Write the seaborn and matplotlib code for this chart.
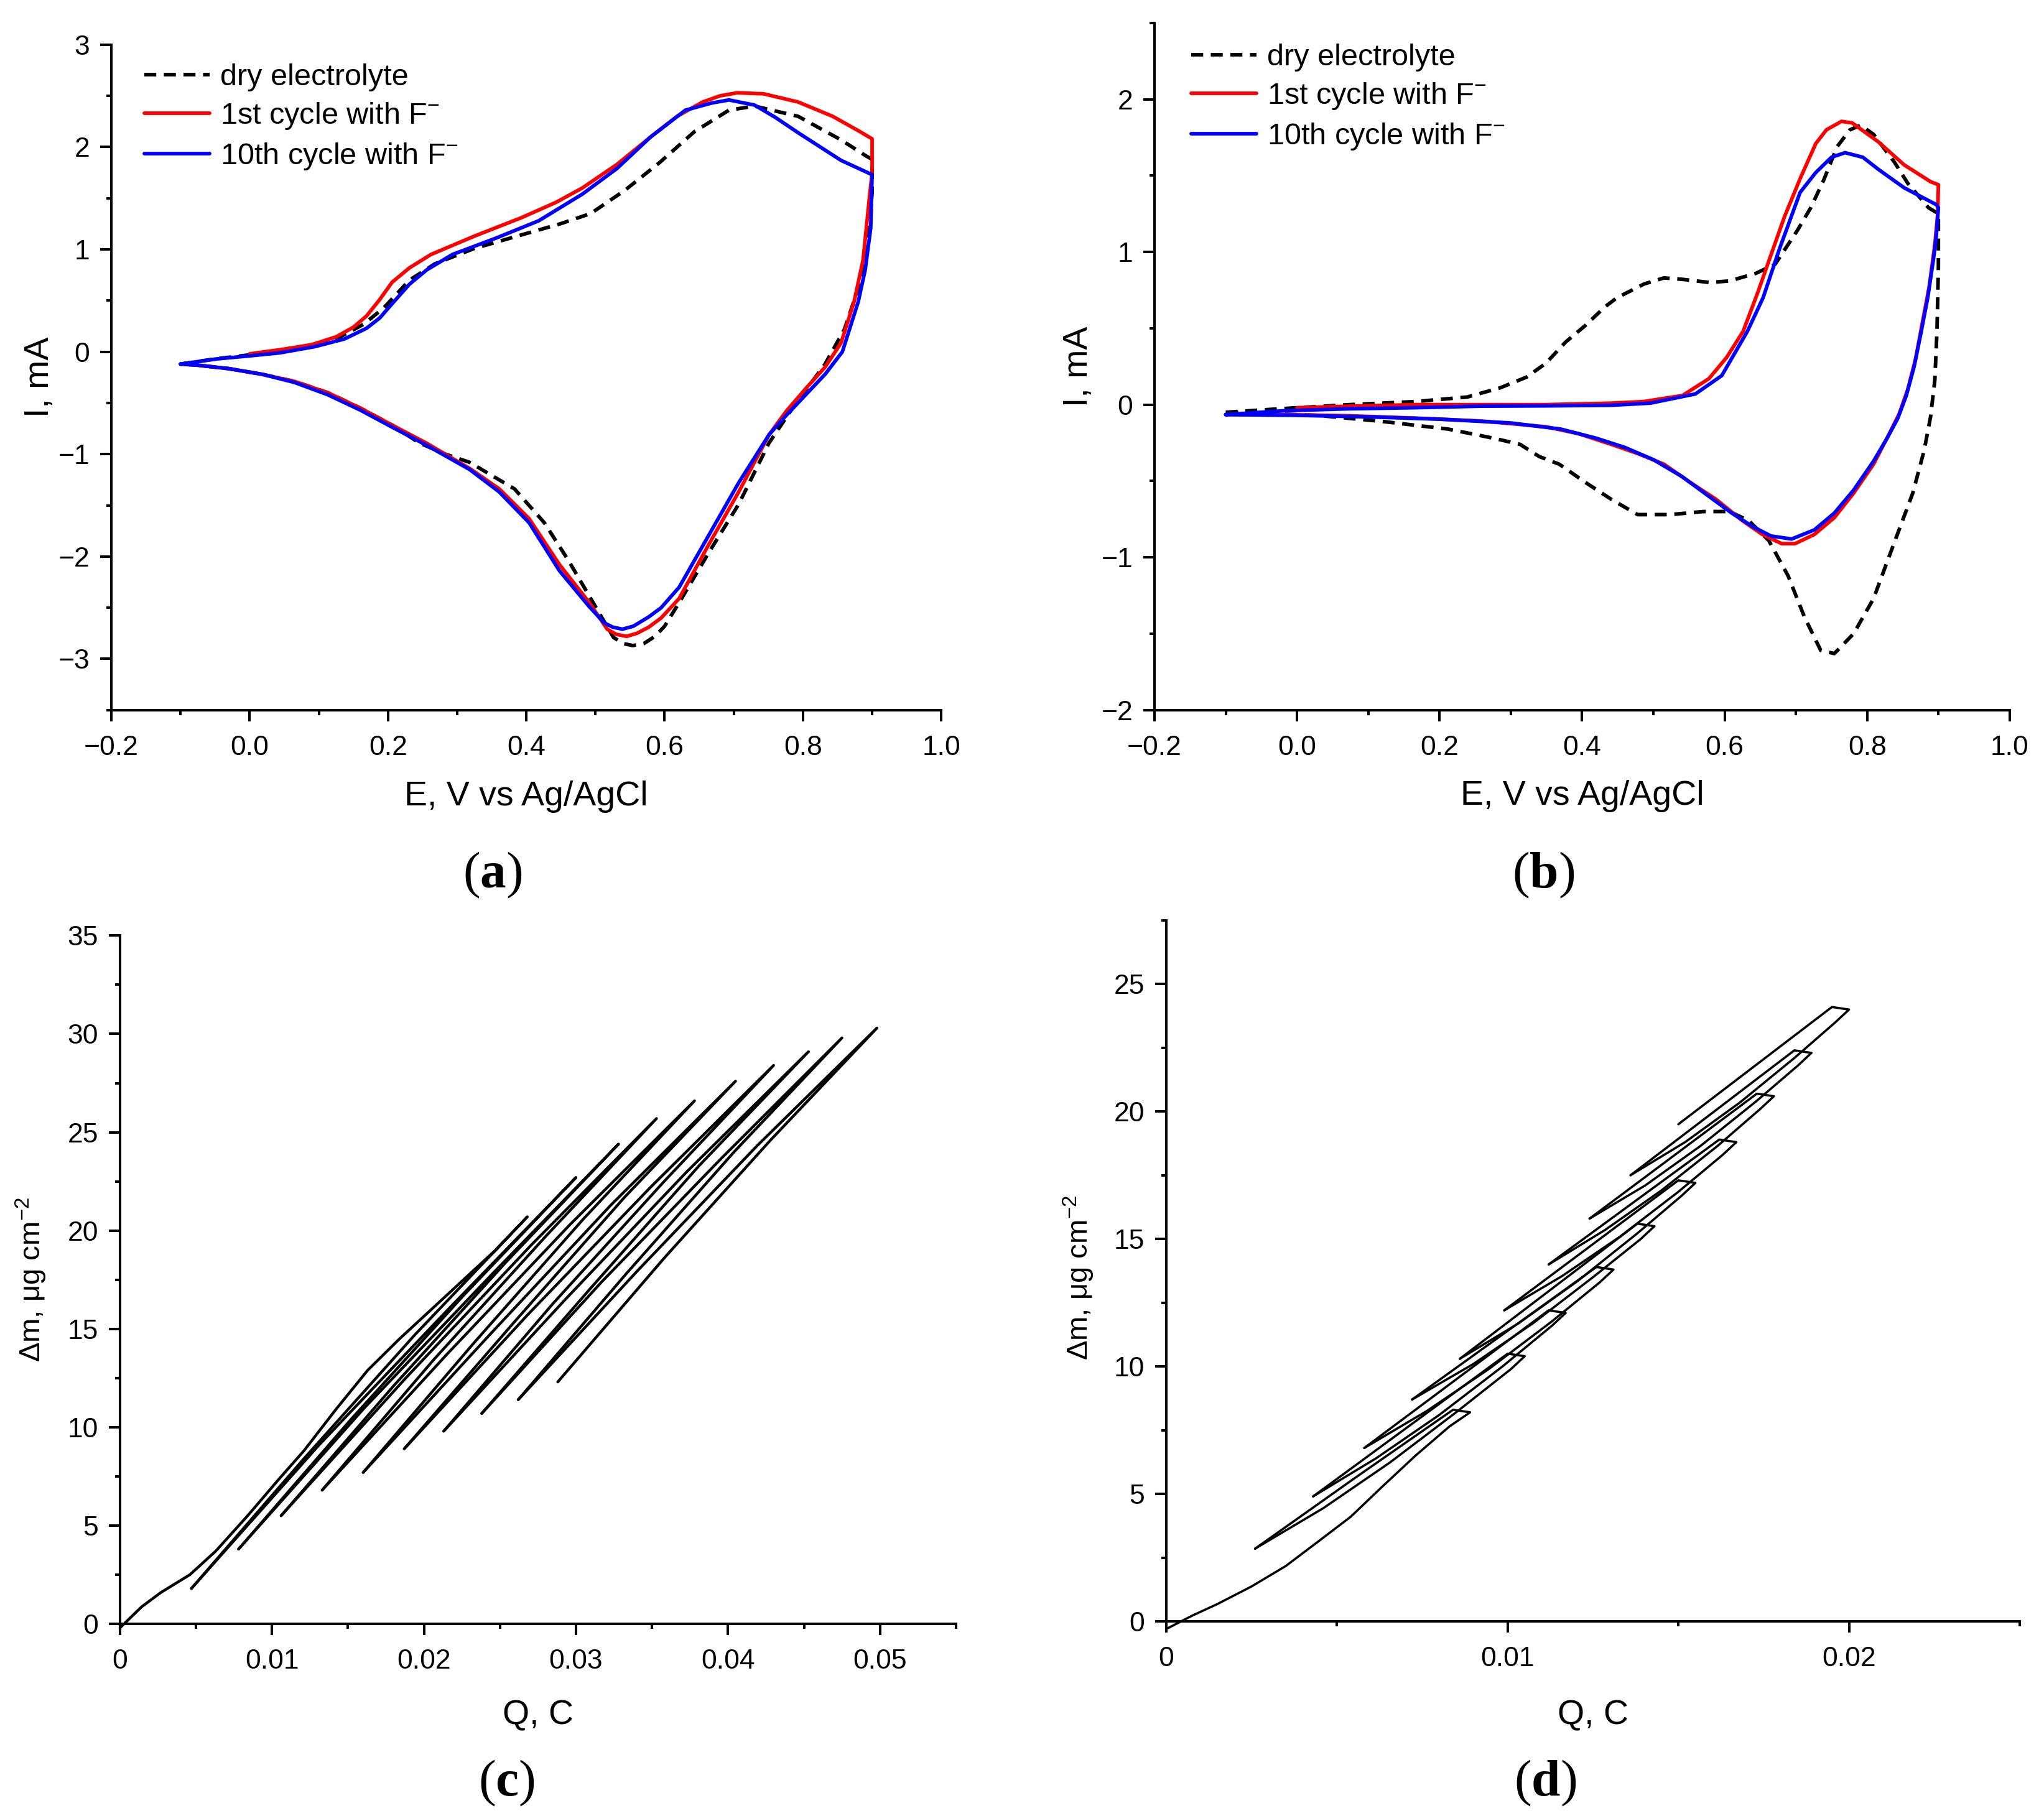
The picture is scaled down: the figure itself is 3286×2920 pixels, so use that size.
import matplotlib
matplotlib.use('Agg')
import matplotlib.pyplot as plt
from matplotlib.ticker import MultipleLocator, FuncFormatter
import seaborn as sns
import pandas as pd

# ---------------- (a) CV, E / V vs I / mA ----------------
A_DRY_E = [-0.1, -0.05, 0.0, 0.05, 0.094, 0.131, 0.165, 0.194, 0.231, 0.268, 0.325, 0.387, 0.449,
           0.493, 0.543, 0.593, 0.643, 0.693, 0.730, 0.793, 0.855, 0.892, 0.900,
           0.900, 0.894, 0.880, 0.860, 0.832, 0.785, 0.751, 0.707, 0.664, 0.621, 0.600, 0.586,
           0.570, 0.554, 0.540, 0.526, 0.500, 0.461, 0.426, 0.383, 0.318, 0.283, 0.245, 0.207,
           0.160, 0.113, 0.065, 0.018, -0.03, -0.077, -0.1]
A_DRY_I = [-0.12, -0.07, -0.03, 0.02, 0.07, 0.146, 0.27, 0.43, 0.70, 0.86, 1.01, 1.13, 1.25,
           1.35, 1.58, 1.85, 2.15, 2.36, 2.40, 2.30, 2.07, 1.91, 1.88,
           1.55, 1.05, 0.62, 0.22, -0.12, -0.55, -0.89, -1.49, -1.96, -2.45, -2.68, -2.78,
           -2.85, -2.87, -2.85, -2.79, -2.49, -2.04, -1.67, -1.34, -1.08, -1.00, -0.89, -0.72,
           -0.55, -0.40, -0.29, -0.22, -0.165, -0.13, -0.12]

A_RED_E = [0.0, 0.044, 0.09, 0.125, 0.150, 0.169, 0.188, 0.206, 0.231, 0.262, 0.325, 0.393,
           0.443, 0.481, 0.531, 0.580, 0.618, 0.655, 0.680, 0.705, 0.743, 0.793, 0.843, 0.880,
           0.900, 0.900, 0.896, 0.887, 0.874, 0.855, 0.832, 0.804, 0.776, 0.751, 0.707, 0.664,
           0.621, 0.595, 0.577, 0.560, 0.545, 0.530, 0.517, 0.491, 0.448, 0.404, 0.361, 0.318,
           0.255, 0.207, 0.160, 0.113, 0.065, 0.018, -0.03, -0.077, -0.1]
A_RED_I = [-0.02, 0.02, 0.07, 0.146, 0.24, 0.35, 0.51, 0.68, 0.82, 0.95, 1.13, 1.31,
           1.46, 1.60, 1.83, 2.10, 2.30, 2.44, 2.50, 2.53, 2.52, 2.44, 2.30, 2.16,
           2.08, 1.75, 1.50, 0.90, 0.49, 0.085, -0.15, -0.36, -0.58, -0.81, -1.37, -1.88,
           -2.41, -2.60, -2.69, -2.75, -2.78, -2.76, -2.71, -2.45, -2.08, -1.63, -1.34, -1.14,
           -0.89, -0.72, -0.55, -0.40, -0.29, -0.22, -0.165, -0.13, -0.12]

A_BLUE_E = [-0.1, -0.048, 0.0, 0.044, 0.094, 0.137, 0.169, 0.188, 0.206, 0.231, 0.256, 0.293,
            0.356, 0.418, 0.481, 0.531, 0.580, 0.630, 0.668, 0.693, 0.730, 0.760, 0.793, 0.855,
            0.900, 0.898, 0.890, 0.880, 0.857, 0.832, 0.804, 0.776, 0.751, 0.707, 0.664, 0.621,
            0.595, 0.577, 0.555, 0.539, 0.525, 0.513, 0.491, 0.448, 0.404, 0.361, 0.318, 0.255,
            0.207, 0.160, 0.113, 0.065, 0.018, -0.03, -0.077, -0.1]
A_BLUE_I = [-0.12, -0.07, -0.04, -0.01, 0.05, 0.125, 0.23, 0.33, 0.47, 0.66, 0.80, 0.95,
            1.11, 1.28, 1.54, 1.79, 2.10, 2.36, 2.43, 2.46, 2.41, 2.29, 2.14, 1.87,
            1.73, 1.21, 0.80, 0.49, 0.0, -0.22, -0.42, -0.62, -0.81, -1.28, -1.79, -2.30,
            -2.50, -2.59, -2.68, -2.71, -2.69, -2.65, -2.49, -2.14, -1.67, -1.37, -1.15, -0.91,
            -0.74, -0.57, -0.42, -0.30, -0.22, -0.165, -0.13, -0.12]

# ---------------- (b) CV ----------------
B_DRY_E = [-0.1, 0.0, 0.074, 0.166, 0.239, 0.285, 0.322, 0.349, 0.377, 0.405, 0.432, 0.449,
           0.487, 0.515, 0.542, 0.579, 0.607, 0.644, 0.671, 0.702, 0.721, 0.739, 0.758, 0.776,
           0.791, 0.809, 0.838, 0.857, 0.886, 0.900,
           0.900, 0.898, 0.895, 0.889, 0.880, 0.864, 0.836, 0.809, 0.781, 0.754,
           0.735, 0.712, 0.689, 0.662, 0.634, 0.607, 0.570, 0.524, 0.478, 0.441, 0.405, 0.368,
           0.340, 0.313, 0.276, 0.212, 0.120, 0.028, -0.1]
B_DRY_I = [-0.05, -0.02, 0.0, 0.02, 0.05, 0.11, 0.18, 0.27, 0.41, 0.52, 0.64, 0.70,
           0.79, 0.83, 0.82, 0.80, 0.81, 0.86, 0.92, 1.14, 1.29, 1.47, 1.69, 1.80,
           1.83, 1.77, 1.59, 1.45, 1.29, 1.25,
           0.90, 0.48, 0.16, -0.08, -0.30, -0.58, -0.93, -1.27, -1.50, -1.63,
           -1.61, -1.39, -1.12, -0.89, -0.76, -0.70, -0.70, -0.72, -0.72, -0.62, -0.51, -0.39,
           -0.34, -0.26, -0.22, -0.16, -0.11, -0.07, -0.05]

B_RED_E = [0.0, 0.074, 0.166, 0.258, 0.349, 0.441, 0.486, 0.541, 0.578, 0.603, 0.626, 0.647,
           0.662, 0.684, 0.706, 0.728, 0.743, 0.764, 0.779, 0.816, 0.852, 0.889, 0.900,
           0.899, 0.895, 0.887, 0.878, 0.868, 0.857, 0.845, 0.830, 0.809, 0.781, 0.754, 0.726,
           0.699, 0.680, 0.653, 0.625, 0.588, 0.552, 0.515, 0.478, 0.441, 0.395, 0.349, 0.258,
           0.166, 0.074, -0.018, -0.1]
B_RED_I = [-0.02, -0.01, 0.0, 0.0, 0.0, 0.01, 0.02, 0.06, 0.17, 0.31, 0.48, 0.74,
           0.94, 1.23, 1.48, 1.71, 1.80, 1.855, 1.845, 1.72, 1.57, 1.46, 1.44,
           1.25, 1.05, 0.77, 0.55, 0.30, 0.10, -0.06, -0.20, -0.39, -0.58, -0.74, -0.85,
           -0.91, -0.91, -0.85, -0.76, -0.62, -0.51, -0.39, -0.32, -0.26, -0.19, -0.145, -0.107,
           -0.088, -0.073, -0.065, -0.065]

B_BLUE_E = [-0.1, -0.018, 0.074, 0.166, 0.258, 0.349, 0.441, 0.496, 0.559, 0.596, 0.632, 0.654,
            0.677, 0.706, 0.728, 0.750, 0.769, 0.794, 0.816, 0.852, 0.897, 0.900,
            0.897, 0.893, 0.885, 0.876, 0.866, 0.855, 0.843, 0.828, 0.809, 0.781, 0.754, 0.726,
            0.694, 0.665, 0.640, 0.610, 0.575, 0.540, 0.500, 0.460, 0.420, 0.370, 0.300, 0.200,
            0.100, 0.0, -0.1]
B_BLUE_I = [-0.065, -0.04, -0.027, -0.02, -0.01, -0.008, -0.004, 0.01, 0.07, 0.19, 0.48, 0.70,
            1.02, 1.39, 1.52, 1.62, 1.65, 1.62, 1.54, 1.42, 1.31, 1.29,
            1.10, 0.95, 0.70, 0.48, 0.25, 0.06, -0.09, -0.22, -0.37, -0.56, -0.71, -0.82,
            -0.88, -0.86, -0.80, -0.71, -0.59, -0.47, -0.36, -0.28, -0.22, -0.16, -0.12, -0.095,
            -0.08, -0.07, -0.065]

CV_LABELS = ['dry electrolyte', '1st cycle with F$^{-}$', '10th cycle with F$^{-}$']

# ---------------- (c) EQCM, Q / C vs dm / ug cm-2, one list per cycle ----------------
C_Q = [
    [0.0, 0.00143, 0.0027, 0.0046, 0.0063, 0.0084, 0.0105, 0.0121, 0.0142, 0.0163, 0.0184, 0.0205,
     0.0226, 0.0247, 0.0268, 0.0194, 0.0121, 0.0047],
    [0.0047, 0.0131, 0.0216, 0.0300, 0.0226, 0.0152, 0.0078],
    [0.0078, 0.0161, 0.0245, 0.0328, 0.0254, 0.0180, 0.0106],
    [0.0106, 0.0188, 0.0271, 0.0353, 0.0280, 0.0206, 0.0133],
    [0.0133, 0.0215, 0.0296, 0.0378, 0.0305, 0.0233, 0.0160],
    [0.0160, 0.0242, 0.0323, 0.0405, 0.0332, 0.0260, 0.0187],
    [0.0187, 0.0268, 0.0349, 0.0430, 0.0358, 0.0285, 0.0213],
    [0.0213, 0.0293, 0.0373, 0.0453, 0.0381, 0.0310, 0.0238],
    [0.0238, 0.0317, 0.0396, 0.0475, 0.0404, 0.0333, 0.0262],
    [0.0262, 0.0341, 0.0419, 0.0498, 0.0428, 0.0358, 0.0288],
]
C_M = [
    [-0.2, 0.87, 1.6, 2.5, 3.7, 5.5, 7.4, 8.8, 10.9, 12.9, 14.5, 16.0,
     17.5, 19.0, 20.7, 14.7, 8.4, 1.8],
    [1.8, 9.1, 16.0, 22.7, 16.7, 10.4, 3.8],
    [3.8, 11.0, 17.8, 24.4, 18.4, 12.1, 5.5],
    [5.5, 12.5, 19.3, 25.7, 19.7, 13.4, 6.8],
    [6.8, 13.7, 20.3, 26.6, 20.6, 14.3, 7.7],
    [7.7, 14.6, 21.3, 27.6, 21.7, 15.4, 8.9],
    [8.9, 15.7, 22.2, 28.4, 22.5, 16.3, 9.8],
    [9.8, 16.5, 23.0, 29.1, 23.3, 17.1, 10.7],
    [10.7, 17.4, 23.7, 29.8, 24.0, 17.8, 11.4],
    [11.4, 18.0, 24.3, 30.3, 24.6, 18.6, 12.3],
]

# ---------------- (d) EQCM ----------------
D_Q = [
    [0.0, 0.00077, 0.0015, 0.0025, 0.0035, 0.0044, 0.0054, 0.0063, 0.0073, 0.0083, 0.0089,
     0.0084, 0.0055, 0.0026],
    [0.0026, 0.0046, 0.00655, 0.0085, 0.0101, 0.0105, 0.0100, 0.00715, 0.0043],
    [0.0043, 0.00615, 0.0080, 0.00985, 0.0113, 0.0117, 0.0112, 0.0085, 0.0058],
    [0.0058, 0.00763, 0.00945, 0.01128, 0.0127, 0.0131, 0.0126, 0.0099, 0.0072],
    [0.0072, 0.0090, 0.01075, 0.0125, 0.0139, 0.0143, 0.0138, 0.0112, 0.0086],
    [0.0086, 0.01033, 0.01205, 0.01378, 0.0151, 0.0155, 0.0150, 0.01245, 0.0099],
    [0.0099, 0.0116, 0.0133, 0.0150, 0.0163, 0.0167, 0.0162, 0.0137, 0.0112],
    [0.0112, 0.01285, 0.0145, 0.01615, 0.0174, 0.0178, 0.0173, 0.01485, 0.0124],
    [0.0124, 0.01403, 0.01565, 0.01728, 0.0185, 0.0189, 0.0184, 0.0160, 0.0136],
    [0.0136, 0.0152, 0.0168, 0.0184, 0.0196, 0.0200, 0.0195, 0.01725, 0.0150],
]
D_M = [
    [-0.3, 0.23, 0.68, 1.37, 2.17, 3.08, 4.1, 5.25, 6.5, 7.65, 8.2,
     8.3, 5.6, 2.85],
    [2.85, 4.44, 6.23, 8.21, 9.9, 10.4, 10.5, 7.7, 4.9],
    [4.9, 6.4, 8.1, 10.0, 11.6, 12.1, 12.2, 9.5, 6.8],
    [6.8, 8.25, 9.9, 11.75, 13.3, 13.8, 13.9, 11.3, 8.7],
    [8.7, 10.1, 11.7, 13.5, 15.0, 15.5, 15.6, 12.95, 10.3],
    [10.3, 11.7, 13.35, 15.2, 16.7, 17.2, 17.3, 14.75, 12.2],
    [12.2, 13.55, 15.1, 16.85, 18.3, 18.8, 18.9, 16.45, 14.0],
    [14.0, 15.35, 16.9, 18.65, 20.1, 20.6, 20.7, 18.25, 15.8],
    [15.8, 17.1, 18.65, 20.4, 21.8, 22.3, 22.4, 19.95, 17.5],
    [17.5, 18.8, 20.35, 22.1, 23.5, 24.0, 24.1, 21.8, 19.5],
]

# ---------------- style ----------------
sns.set_theme(style='ticks')
plt.rcParams['font.family'] = ['Liberation Sans', 'DejaVu Sans']
plt.rcParams['mathtext.default'] = 'regular'
plt.rcParams['mathtext.fontset'] = 'custom'
plt.rcParams['mathtext.bf'] = 'Liberation Serif:bold'
plt.rcParams['axes.unicode_minus'] = True
plt.rcParams['axes.linewidth'] = 1.45
plt.rcParams['axes.edgecolor'] = 'black'
plt.rcParams['text.color'] = 'black'
plt.rcParams['axes.labelcolor'] = 'black'

fig = plt.figure(figsize=(16.43, 14.6), dpi=200)
fig.patch.set_facecolor('white')

ax_a = fig.add_axes([0.0545, 0.609, 0.406, 0.3664])
ax_b = fig.add_axes([0.5648, 0.609, 0.4184, 0.3784])
ax_c = fig.add_axes([0.0587, 0.1058, 0.409, 0.379])
ax_d = fig.add_axes([0.5706, 0.1072, 0.4175, 0.386])


def style_axes(ax, xmaj, xmin, ymaj, ymin):
    ax.set_facecolor('white')
    ax.spines['top'].set_visible(False)
    ax.spines['right'].set_visible(False)
    ax.xaxis.set_major_locator(MultipleLocator(xmaj))
    ax.xaxis.set_minor_locator(MultipleLocator(xmin))
    ax.yaxis.set_major_locator(MultipleLocator(ymaj))
    ax.yaxis.set_minor_locator(MultipleLocator(ymin))
    ax.tick_params(which='major', direction='out', length=6.5, width=1.45,
                   labelsize=16, colors='black')
    ax.tick_params(which='minor', direction='out', length=3, width=1.45, colors='black')
    ax.tick_params(axis='x', which='major', pad=8)
    ax.tick_params(axis='y', which='major', pad=6)
    ax.grid(False)


def draw_cv(ax, dry, red, blue):
    dash = (0, (3.3, 2.1))
    sns.lineplot(x=dry[0], y=dry[1], ax=ax, sort=False, estimator=None, color='black',
                 lw=2.1, ls=dash, label=CV_LABELS[0])
    sns.lineplot(x=red[0], y=red[1], ax=ax, sort=False, estimator=None, color='#ff0000',
                 lw=2.1, label=CV_LABELS[1])
    sns.lineplot(x=blue[0], y=blue[1], ax=ax, sort=False, estimator=None, color='#0000ff',
                 lw=2.1, label=CV_LABELS[2])
    ax.set_xlim(-0.2, 1.0)
    ax.set_xlabel('E, V vs Ag/AgCl', fontsize=20)
    ax.set_ylabel('I, mA', fontsize=20)


leg_kw = dict(loc='upper left', frameon=False, fontsize=17.5, handlelength=2.15,
              handletextpad=0.35, labelspacing=0.32, borderpad=0, borderaxespad=0)

draw_cv(ax_a, (A_DRY_E, A_DRY_I), (A_RED_E, A_RED_I), (A_BLUE_E, A_BLUE_I))
ax_a.set_ylim(-3.5, 3.0)
style_axes(ax_a, 0.2, 0.1, 1, 0.5)
ax_a.legend(bbox_to_anchor=(0.04, 0.972), **leg_kw)

draw_cv(ax_b, (B_DRY_E, B_DRY_I), (B_RED_E, B_RED_I), (B_BLUE_E, B_BLUE_I))
ax_b.set_ylim(-2.0, 2.5)
style_axes(ax_b, 0.2, 0.1, 1, 0.5)
ax_b.legend(bbox_to_anchor=(0.043, 0.970), **leg_kw)


def draw_eqcm(ax, qs, ms, lw):
    rows = []
    for k, (q, m) in enumerate(zip(qs, ms)):
        for qq, mm in zip(q, m):
            rows.append({'cycle': k, 'Q': qq, 'dm': mm})
    df = pd.DataFrame(rows)
    sns.lineplot(data=df, x='Q', y='dm', units='cycle', estimator=None, sort=False,
                 color='black', lw=lw, legend=False, ax=ax, clip_on=False)
    ax.set_xlabel('Q, C', fontsize=20)
    ax.set_ylabel('\u0394m, \u03bcg cm$^{-2}$', fontsize=17)


q_fmt = FuncFormatter(lambda v, p: '0' if abs(v) < 1e-12 else f'{v:.2f}')

draw_eqcm(ax_c, C_Q, C_M, 1.6)
ax_c.set_xlim(0, 0.055)
ax_c.set_ylim(0, 35)
style_axes(ax_c, 0.01, 0.005, 5, 2.5)
ax_c.xaxis.set_major_formatter(q_fmt)

draw_eqcm(ax_d, D_Q, D_M, 1.3)
ax_d.set_xlim(0, 0.025)
ax_d.set_ylim(0, 27.5)
style_axes(ax_d, 0.01, 0.005, 5, 2.5)
ax_d.xaxis.set_major_formatter(q_fmt)

# label positions
ax_a.xaxis.set_label_coords(0.5, -0.106)
ax_b.xaxis.set_label_coords(0.5, -0.102)
ax_c.xaxis.set_label_coords(0.5, -0.110)
ax_d.xaxis.set_label_coords(0.5, -0.111)
ax_a.yaxis.set_label_coords(-0.067, 0.5)
ax_b.yaxis.set_label_coords(-0.070, 0.5)
ax_c.yaxis.set_label_coords(-0.0856, 0.5)
ax_d.yaxis.set_label_coords(-0.082, 0.49)

# panel letters
for x, y, s in [(0.241, 0.518, 'a'), (0.755, 0.518, 'b'), (0.248, 0.018, 'c'), (0.756, 0.018, 'd')]:
    fig.text(x, y, '($\\mathbf{' + s + '}$)', family='Liberation Serif', fontsize=30,
             ha='center', va='center')

fig.savefig('out.png', dpi=200, facecolor='white')
